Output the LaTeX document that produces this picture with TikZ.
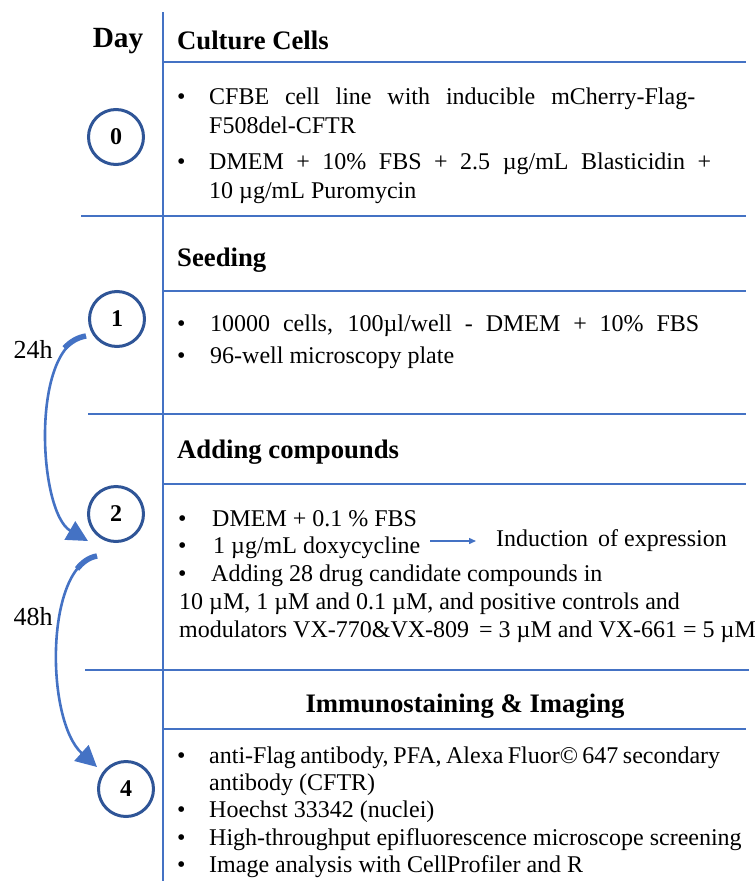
\documentclass[tikz,border=0pt]{standalone}
\usepackage{fontspec}
\setmainfont{Liberation Serif}
\usetikzlibrary{arrows.meta}
\definecolor{lineblue}{HTML}{4472C4}
\definecolor{circblue}{HTML}{2F5597}
\definecolor{arrblue}{HTML}{4472C4}
\begin{document}
\begin{tikzpicture}[x=1pt,y=-1pt,
  txt/.style={anchor=base west, inner sep=0pt, font=\fontsize{24}{28}\selectfont},
  bul/.style={anchor=base west, inner sep=0pt, font=\fontsize{24}{28}\selectfont},
  head/.style={anchor=base west, inner sep=0pt, font=\fontsize{26.7}{30}\selectfont\bfseries},
  daycirc/.style={circle, draw=circblue, line width=3pt, minimum size=55pt, inner sep=0pt, font=\fontsize{24}{28}\selectfont\bfseries},
  sepline/.style={draw=lineblue, line width=2pt},
  subline/.style={draw=lineblue, line width=1.3pt},
  timearrow/.style={draw=arrblue, line width=2.6pt, -{Triangle[length=21pt,width=21pt]}},
  taper/.style={draw=arrblue, line width=5.5pt},
  hlabel/.style={anchor=center, inner sep=0pt, font=\fontsize{26}{30}\selectfont},
]
\useasboundingbox (0,0) rectangle (755,881);
% grid lines
\draw[sepline] (163,12) -- (163,881);
\draw[subline] (163,62) -- (746,62);
\draw[sepline] (81,216) -- (746,216);
\draw[subline] (163,291) -- (746,291);
\draw[sepline] (88,414) -- (746,414);
\draw[subline] (163,484) -- (746,484);
\draw[sepline] (85,670) -- (749,670);
\draw[subline] (163,729) -- (746,729);

% Day header
\node[anchor=base, inner sep=0pt, font=\fontsize{29.3}{32}\selectfont\bfseries] (day) at (118,47) {Day};

% circles
\node[daycirc] (c0) at (116,137) {0};
\node[daycirc] (c1) at (117,319) {1};
\node[daycirc] (c2) at (116,514) {2};
\node[daycirc] (c4) at (126,789) {4};

% Section 0
\node[head] (h0) at (177,49) {Culture Cells};
\node[bul] (b01) at (177,104) {•};
\node[txt] (t01) at (209,104) {\makebox[486pt][s]{CFBE cell line with inducible mCherry-Flag-}};
\node[txt] (t02) at (209,133) {F508del-CFTR};
\node[bul] (b02) at (177,169) {•};
\node[txt] (t03) at (209,169) {\makebox[502pt][s]{DMEM + 10\% FBS + 2.5 µg/mL Blasticidin +}};
\node[txt] (t04) at (209,198) {10 µg/mL Puromycin};

% Section 1
\node[head] (h1) at (177,266) {Seeding};
\node[bul] (b11) at (177,331) {•};
\node[txt] (t11) at (210,331) {\makebox[489pt][s]{10000 cells, 100µl/well - DMEM + 10\% FBS}};
\node[bul] (b12) at (177,363) {•};
\node[txt] (t12) at (210,363) {96-well microscopy plate};

% Section 2
\node[head] (h2) at (177,458) {Adding compounds};
\node[bul] (b21) at (178,526) {•};
\node[txt] (t21) at (212,526) {DMEM + 0.1 \% FBS};
\node[bul] (b22) at (178,553) {•};
\node[txt] (t22) at (213,553) {1 µg/mL doxycycline};
\node[txt] (ind) at (496,546) {Induction\, of expression};
\coordinate (ia) at (430,541);
\coordinate (ib) at (476,541);
\draw[draw=lineblue, line width=1.4pt, -{Triangle[length=7pt,width=6pt]}] (ia) -- (ib);
\node[bul] (b23) at (178,581) {•};
\node[txt] (t23) at (211,581) {Adding 28 drug candidate compounds in};
\node[txt] (t24) at (179,609) {10 µM, 1 µM and 0.1 µM, and positive controls and};
\node[txt] (t25) at (179,637) {modulators VX-770\&VX-809 \,= 3 µM and VX-661 = 5 µM};

% Section 4
\node[head, anchor=base] (h4) at (465,712) {Immunostaining \& Imaging};
\node[bul] (b41) at (177,763) {•};
\node[txt] (t41) at (209,763) {\makebox[511pt][s]{anti-Flag antibody, PFA, Alexa Fluor© 647 secondary}};
\node[txt] (t42) at (209,790) {antibody (CFTR)};
\node[bul] (b43) at (177,817) {•};
\node[txt] (t43) at (209,817) {Hoechst 33342 (nuclei)};
\node[bul] (b44) at (177,845) {•};
\node[txt] (t44) at (209,845) {High-throughput epifluorescence microscope screening};
\node[bul] (b45) at (177,872) {•};
\node[txt] (t45) at (209,872) {Image analysis with CellProfiler and R};

% time arrows
\coordinate (a1s) at (86,336);
\coordinate (a1e) at (88,541);
\draw[timearrow] (a1s) .. controls (30,345) and (38,512) .. (a1e);
\draw[taper] (a1s) .. controls (77.6,337.35) and (70.4,341.65) .. (64.45,348.1);
\node[hlabel] (l24) at (33,349) {24h};

\coordinate (a2s) at (97,556);
\coordinate (a2e) at (97,767);
\draw[timearrow] (a2s) .. controls (45,565) and (45,720) .. (a2e);
\draw[taper] (a2s) .. controls (89.2,557.35) and (82.57,561.99) .. (77.1,568.9);
\node[hlabel] (l48) at (33,617) {48h};
\end{tikzpicture}
\end{document}
